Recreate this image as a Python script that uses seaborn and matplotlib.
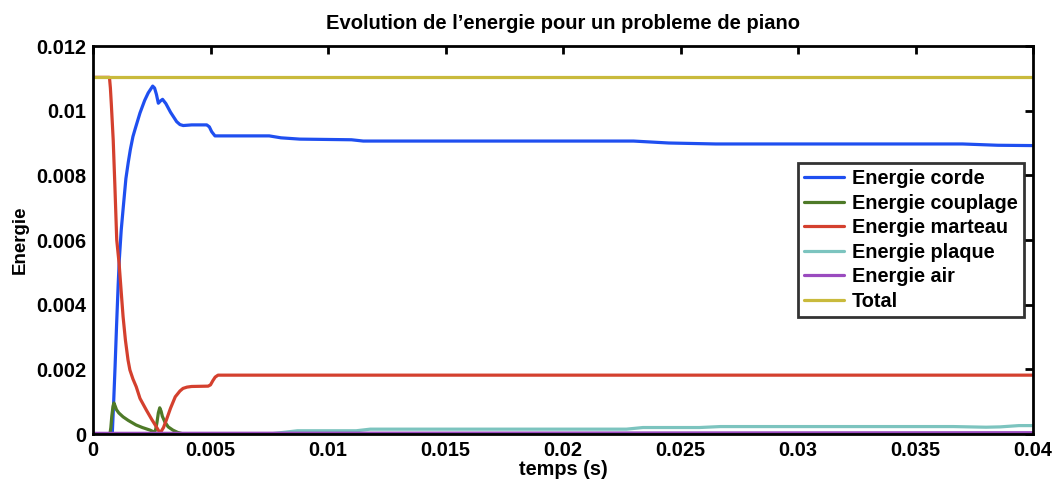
import numpy as np
import pandas as pd
import seaborn as sns
import matplotlib.pyplot as plt

sns.set_style("white")
plt.rcParams['font.family'] = ['Liberation Sans', 'DejaVu Sans']
plt.rcParams['font.weight'] = 'bold'
plt.rcParams['text.color'] = 'black'
plt.rcParams['axes.labelcolor'] = 'black'
plt.rcParams['xtick.color'] = 'black'
plt.rcParams['ytick.color'] = 'black'

# ---- data (energies in units of 1e-3) ----
t_corde = [0, 0.00082, 0.00088, 0.00094, 0.00100, 0.00107, 0.00112, 0.00120, 0.00128, 0.0014,
           0.0015, 0.00159, 0.0017, 0.0018, 0.0020, 0.0022, 0.00235, 0.00245, 0.00254, 0.00262,
           0.00270, 0.00278, 0.00287, 0.00296, 0.0031, 0.0033, 0.00356, 0.0037, 0.00384, 0.0042,
           0.00484, 0.00495, 0.00505, 0.00519, 0.0075, 0.0080, 0.0088, 0.0110, 0.0115, 0.0230,
           0.0245, 0.0265, 0.0370, 0.0385, 0.0400]
e_corde = [0, 0, 1.0, 2.1, 3.3, 4.6, 5.4, 6.3, 6.95, 7.9,
           8.4, 8.8, 9.2, 9.45, 9.93, 10.32, 10.55, 10.66, 10.76, 10.7,
           10.5, 10.23, 10.3, 10.35, 10.22, 9.95, 9.66, 9.57, 9.54, 9.56,
           9.56, 9.5, 9.35, 9.22, 9.22, 9.16, 9.12, 9.10, 9.06, 9.06,
           9.00, 8.97, 8.97, 8.93, 8.92]

t_couplage = [0, 0.00072, 0.00076, 0.00080, 0.00085, 0.00089, 0.00095, 0.0010, 0.0011, 0.00128,
              0.0015, 0.00183, 0.0021, 0.00243, 0.00262, 0.00267, 0.00272, 0.00278, 0.00284, 0.0029,
              0.00295, 0.00306, 0.0032, 0.0034, 0.0036, 0.0038, 0.0040, 0.0400]
e_couplage = [0, 0, 0.2, 0.55, 0.85, 0.96, 0.85, 0.75, 0.65, 0.53,
              0.42, 0.28, 0.2, 0.12, 0.05, 0.15, 0.35, 0.65, 0.81, 0.7,
              0.55, 0.37, 0.22, 0.12, 0.05, 0.01, 0, 0]

t_marteau = [0, 0.00070, 0.00074, 0.00078, 0.00086, 0.00093, 0.00101, 0.00111, 0.0012, 0.00128,
             0.00138, 0.00149, 0.00157, 0.0017, 0.00184, 0.0020, 0.00227, 0.0025, 0.00269, 0.00284,
             0.0029, 0.0030, 0.00312, 0.0033, 0.0035, 0.0037, 0.00383, 0.0040, 0.0042, 0.0049,
             0.0050, 0.0051, 0.0052, 0.00532, 0.0400]
e_marteau = [11.03, 11.03, 10.7, 10.2, 9.09, 7.7, 6.0, 5.28, 4.4, 3.63,
             2.9, 2.29, 1.98, 1.7, 1.46, 1.1, 0.74, 0.45, 0.23, 0.04,
             0.08, 0.2, 0.43, 0.8, 1.15, 1.33, 1.41, 1.45, 1.47, 1.48,
             1.52, 1.65, 1.76, 1.82, 1.82]

t_plaque = [0, 0.0075, 0.0087, 0.0112, 0.0118, 0.0227, 0.0234, 0.0258, 0.0267, 0.0366,
            0.0380, 0.0386, 0.0394, 0.0400]
e_plaque = [0, 0, 0.10, 0.10, 0.15, 0.15, 0.20, 0.20, 0.23, 0.23,
            0.21, 0.22, 0.26, 0.26]

t_air = [0, 0.02, 0.04]
e_air = [0.02, 0.03, 0.04]

t_total = [0, 0.04]
e_total = [11.03, 11.03]

labels = ["Energie corde", "Energie couplage", "Energie marteau",
          "Energie plaque", "Energie air", "Total"]
colors = ["#1f4ff0", "#4e7a28", "#d4402e", "#7cc4bf", "#9a4bbf", "#c9ba3c"]

series = [(t_corde, e_corde), (t_couplage, e_couplage), (t_marteau, e_marteau),
          (t_plaque, e_plaque), (t_air, e_air), (t_total, e_total)]

fig = plt.figure(figsize=(10.53, 4.84), dpi=100)
ax = fig.add_axes([93/1053, 1-434/484, 940/1053, 388/484])

for (t, e), lab, c in zip(series, labels, colors):
    df = pd.DataFrame({"t": t, "E": np.array(e) * 1e-3})
    sns.lineplot(data=df, x="t", y="E", ax=ax, color=c, lw=2.3, label=lab)

ax.set_xlim(0, 0.04)
ax.set_ylim(0, 0.012)
ax.set_xticks([0, 0.005, 0.01, 0.015, 0.02, 0.025, 0.03, 0.035, 0.04])
ax.set_xticklabels(["0", "0.005", "0.01", "0.015", "0.02", "0.025", "0.03", "0.035", "0.04"])
ax.set_yticks([0, 0.002, 0.004, 0.006, 0.008, 0.01, 0.012])
ax.set_yticklabels(["0", "0.002", "0.004", "0.006", "0.008", "0.01", "0.012"])
ax.tick_params(direction='in', length=6, width=2, labelsize=14.3, top=True, right=True,
               colors='black', pad=5)
for s in ax.spines.values():
    s.set_linewidth(2)
    s.set_color('black')

ax.set_xlabel("temps (s)", fontsize=14.3, fontweight='bold', labelpad=0)
ax.set_ylabel("Energie", fontsize=13.5, fontweight='bold', labelpad=5)
ax.set_title("Evolution de l\u2019energie pour un probleme de piano", fontsize=14.5,
             fontweight='bold', pad=12)

leg = ax.legend(loc='upper right', bbox_to_anchor=(0.990, 0.698), fontsize=14.3,
                frameon=True, fancybox=False, handlelength=2.0, borderpad=0.3,
                labelspacing=0.28, handletextpad=0.4, borderaxespad=0)
leg.get_frame().set_edgecolor('black')
leg.get_frame().set_linewidth(2)
for txt in leg.get_texts():
    txt.set_fontweight('bold')
for line in leg.get_lines():
    line.set_linewidth(2.3)

fig.savefig("out.png", dpi=100)
